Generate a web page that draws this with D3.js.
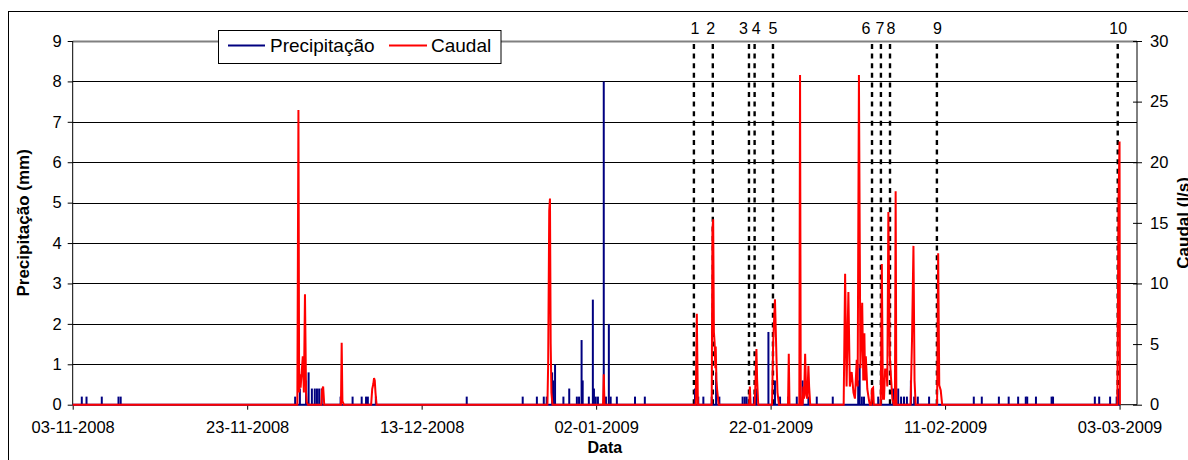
<!DOCTYPE html>
<html>
<head>
<meta charset="utf-8">
<script src="https://cdn.jsdelivr.net/npm/d3@7"></script>
<style>
  body { margin: 0; background: #fff; }
  svg { display: block; font-family: "Liberation Sans", Arial, sans-serif; }
</style>
</head>
<body>
<div id="chart"></div>
<script>
// axis ticks
const xTickLabels = ["03-11-2008", "23-11-2008", "13-12-2008", "02-01-2009", "22-01-2009", "11-02-2009", "03-03-2009"];
const leftTicks = [0, 1, 2, 3, 4, 5, 6, 7, 8, 9];
const rightTicks = [0, 5, 10, 15, 20, 25, 30];

// Precipitação (mm), hourly readings > 0
const precipitacao = [
  ["2008-11-04 01:00", 0.2], ["2008-11-04 14:00", 0.2], ["2008-11-06 08:00", 0.2], ["2008-11-08 06:00", 0.2],
  ["2008-11-08 12:00", 0.2], ["2008-11-28 12:00", 0.2], ["2008-11-29 01:00", 0.4], ["2008-11-29 18:00", 0.6],
  ["2008-11-30 01:00", 0.8], ["2008-11-30 10:00", 0.4], ["2008-11-30 18:00", 0.4], ["2008-12-01 00:00", 0.4],
  ["2008-12-01 06:00", 0.4], ["2008-12-01 13:00", 0.4], ["2008-12-03 17:00", 0.2], ["2008-12-05 02:00", 0.2],
  ["2008-12-06 03:00", 0.2], ["2008-12-06 15:00", 0.2], ["2008-12-06 20:00", 0.2], ["2008-12-07 18:00", 0.2],
  ["2008-12-18 04:00", 0.2], ["2008-12-24 14:00", 0.2], ["2008-12-26 05:00", 0.2], ["2008-12-27 00:00", 0.2],
  ["2008-12-27 08:00", 0.2], ["2008-12-27 23:00", 0.8], ["2008-12-28 02:00", 0.6], ["2008-12-28 07:00", 1.0],
  ["2008-12-29 06:00", 0.2], ["2008-12-29 22:00", 0.4], ["2008-12-30 19:00", 0.2], ["2008-12-31 01:00", 0.2],
  ["2008-12-31 08:00", 1.6], ["2008-12-31 11:00", 0.6], ["2009-01-01 04:00", 0.2], ["2009-01-01 15:00", 2.6],
  ["2009-01-01 18:00", 0.4], ["2009-01-01 23:00", 0.2], ["2009-01-02 05:00", 0.2], ["2009-01-02 21:00", 8.0],
  ["2009-01-03 03:00", 0.2], ["2009-01-03 11:00", 2.0], ["2009-01-03 16:00", 0.2], ["2009-01-04 09:00", 0.2],
  ["2009-01-06 11:00", 0.2], ["2009-01-07 14:00", 0.2], ["2009-01-13 08:00", 0.4], ["2009-01-13 17:00", 0.2],
  ["2009-01-14 07:00", 0.2], ["2009-01-15 06:00", 0.2], ["2009-01-15 18:00", 0.8], ["2009-01-16 03:00", 0.2],
  ["2009-01-18 19:00", 0.2], ["2009-01-19 01:00", 0.2], ["2009-01-19 06:00", 0.2], ["2009-01-20 02:00", 0.2],
  ["2009-01-20 08:00", 0.4], ["2009-01-21 18:00", 1.8], ["2009-01-22 12:00", 0.6], ["2009-01-23 02:00", 0.2],
  ["2009-01-24 01:00", 0.2], ["2009-01-25 00:00", 0.2], ["2009-01-25 09:00", 0.2], ["2009-01-25 16:00", 0.6],
  ["2009-01-26 08:00", 0.2], ["2009-01-27 07:00", 0.2], ["2009-01-29 03:00", 0.2], ["2009-02-01 01:00", 0.6],
  ["2009-02-01 05:00", 1.0], ["2009-02-01 11:00", 0.2], ["2009-02-01 17:00", 0.2], ["2009-02-03 08:00", 0.2],
  ["2009-02-05 01:00", 0.4], ["2009-02-05 15:00", 0.4], ["2009-02-05 23:00", 0.2], ["2009-02-06 07:00", 0.2],
  ["2009-02-06 15:00", 0.2], ["2009-02-07 02:00", 0.6], ["2009-02-07 11:00", 0.2], ["2009-02-07 21:00", 0.2],
  ["2009-02-09 04:00", 0.2], ["2009-02-14 07:00", 0.2], ["2009-02-15 05:00", 0.2], ["2009-02-17 04:00", 0.2],
  ["2009-02-18 07:00", 0.2], ["2009-02-19 09:00", 0.2], ["2009-02-20 06:00", 0.2], ["2009-02-20 10:00", 0.2],
  ["2009-02-21 10:00", 0.2], ["2009-02-23 05:00", 0.2], ["2009-02-23 09:00", 0.2], ["2009-02-28 04:00", 0.2],
  ["2009-02-28 16:00", 0.2], ["2009-03-01 22:00", 0.2], ["2009-03-02 16:00", 0.2], ["2009-03-02 21:00", 0.4]
];
const precipRange = ["2008-11-03 00:00", "2009-03-03 01:00"];

// Caudal (l/s)
const caudal = [
  ["2008-11-03 00:00", 0],
  ["2008-11-28 18:00", 0], ["2008-11-28 21:00", 24.3], ["2008-11-28 23:00", 1.0], ["2008-11-29 01:00", 2.5],
  ["2008-11-29 03:00", 1.4], ["2008-11-29 09:00", 4.0], ["2008-11-29 12:00", 1.0], ["2008-11-29 15:00", 9.1],
  ["2008-11-29 18:00", 1.0], ["2008-11-29 20:00", 0.2], ["2008-11-29 23:00", 0],
  ["2008-12-01 12:00", 0], ["2008-12-01 14:00", 1.2], ["2008-12-01 17:00", 1.5], ["2008-12-01 20:00", 0],
  ["2008-12-03 18:00", 0], ["2008-12-03 20:00", 5.1], ["2008-12-03 22:00", 0.3], ["2008-12-04 02:00", 0],
  ["2008-12-07 05:00", 0], ["2008-12-07 08:00", 1.3], ["2008-12-07 11:00", 1.7], ["2008-12-07 13:00", 2.2],
  ["2008-12-07 15:00", 2.0], ["2008-12-07 17:00", 1.0], ["2008-12-07 20:00", 0],
  ["2008-12-27 10:00", 0], ["2008-12-27 12:00", 3.3], ["2008-12-27 15:00", 16.0], ["2008-12-27 17:00", 17.0],
  ["2008-12-27 19:00", 5.0], ["2008-12-27 21:00", 1.0], ["2008-12-28 00:00", 0],
  ["2009-01-02 19:00", 0], ["2009-01-02 21:00", 2.5], ["2009-01-02 23:00", 0],
  ["2009-01-13 10:00", 0], ["2009-01-13 13:00", 7.5], ["2009-01-13 16:00", 0],
  ["2009-01-15 06:00", 0], ["2009-01-15 08:00", 14.5], ["2009-01-15 10:00", 15.3], ["2009-01-15 12:00", 6.0],
  ["2009-01-15 14:00", 5.1], ["2009-01-15 16:00", 3.0], ["2009-01-15 17:00", 4.8], ["2009-01-15 19:00", 2.0],
  ["2009-01-15 21:00", 1.2], ["2009-01-16 01:00", 0],
  ["2009-01-19 13:00", 0], ["2009-01-19 15:00", 1.5], ["2009-01-19 17:00", 0],
  ["2009-01-20 04:00", 0], ["2009-01-20 06:00", 1.5], ["2009-01-20 09:00", 4.6], ["2009-01-20 11:00", 2.0],
  ["2009-01-20 14:00", 0],
  ["2009-01-22 04:00", 0], ["2009-01-22 07:00", 5.1], ["2009-01-22 12:00", 8.7], ["2009-01-22 17:00", 2.9],
  ["2009-01-22 19:00", 1.0], ["2009-01-22 23:00", 0],
  ["2009-01-24 00:00", 0], ["2009-01-24 02:00", 4.2], ["2009-01-24 04:00", 0],
  ["2009-01-25 07:00", 0], ["2009-01-25 09:00", 27.2], ["2009-01-25 11:00", 0],
  ["2009-01-25 16:00", 0], ["2009-01-25 18:00", 1.5], ["2009-01-25 20:00", 0.5], ["2009-01-25 23:00", 4.2],
  ["2009-01-26 02:00", 0.8], ["2009-01-26 05:00", 0.5], ["2009-01-26 08:00", 3.2], ["2009-01-26 10:00", 1.5],
  ["2009-01-26 13:00", 0],
  ["2009-01-30 09:00", 0], ["2009-01-30 13:00", 10.8], ["2009-01-30 17:00", 1.5], ["2009-01-30 22:00", 9.3],
  ["2009-01-31 02:00", 1.5], ["2009-01-31 07:00", 2.7], ["2009-01-31 12:00", 1.0], ["2009-01-31 16:00", 0.5],
  ["2009-01-31 21:00", 3.7], ["2009-01-31 23:30", 1.5], ["2009-02-01 03:00", 27.2], ["2009-02-01 07:00", 3.0],
  ["2009-02-01 12:00", 8.4], ["2009-02-01 15:00", 2.0], ["2009-02-01 18:00", 5.9], ["2009-02-01 20:00", 2.0],
  ["2009-02-01 22:00", 4.0], ["2009-02-02 02:00", 1.3], ["2009-02-02 07:00", 0.3], ["2009-02-02 09:00", 0],
  ["2009-02-02 13:00", 0], ["2009-02-02 15:00", 1.3], ["2009-02-02 18:00", 1.4], ["2009-02-02 20:00", 0],
  ["2009-02-03 15:00", 0], ["2009-02-03 18:00", 11.6], ["2009-02-03 21:00", 0.5], ["2009-02-04 00:00", 0.5],
  ["2009-02-04 03:00", 2.9], ["2009-02-04 07:00", 2.9], ["2009-02-04 09:00", 1.5], ["2009-02-04 12:00", 15.9],
  ["2009-02-04 14:00", 10.0], ["2009-02-04 16:00", 4.0], ["2009-02-04 19:00", 2.3], ["2009-02-04 23:00", 0.5],
  ["2009-02-05 03:00", 0],
  ["2009-02-05 06:00", 0], ["2009-02-05 08:00", 17.6], ["2009-02-05 10:00", 0],
  ["2009-02-07 01:00", 0], ["2009-02-07 05:00", 5.3], ["2009-02-07 09:00", 13.1], ["2009-02-07 12:00", 2.0],
  ["2009-02-07 15:00", 0],
  ["2009-02-10 02:00", 0], ["2009-02-10 05:00", 12.5], ["2009-02-10 08:00", 1.6], ["2009-02-10 12:00", 1.2],
  ["2009-02-10 16:00", 0],
  ["2009-03-02 18:00", 0], ["2009-03-02 21:00", 16.6], ["2009-03-03 00:00", 21.7], ["2009-03-03 01:00", 0]
];

// numbered events (dashed lines)
const eventLabels = ["1", "2", "3", "4", "5", "6", "7", "8", "9", "10"];
const eventDates = ["2009-01-13 05:00", "2009-01-15 09:00", "2009-01-19 12:30", "2009-01-20 04:00", "2009-01-22 06:30",
                    "2009-02-02 15:00", "2009-02-03 15:30", "2009-02-04 16:30", "2009-02-10 01:30", "2009-03-02 19:00"];

const width = 1188, height = 460;
const margin = {top: 41, bottom: 55.3, left: 72.7, right: 51};
const parse = d3.utcParse("%Y-%m-%d %H:%M");
const parseTick = d3.utcParse("%d-%m-%Y");

const svg = d3.select("#chart")
  .append("svg")
  .attr("width", width)
  .attr("height", height);

// chart border
svg.append("rect")
  .attr("x", 8.5).attr("y", 11.5)
  .attr("width", 1200).attr("height", 470)
  .attr("fill", "#fff").attr("stroke", "#000");

const x = d3.scaleUtc()
  .domain([parse("2008-11-03 00:00"), parse("2009-03-05 00:00")])
  .range([margin.left, width - margin.right]);

const yL = d3.scaleLinear().domain([0, 9]).range([height - margin.bottom, margin.top]);
const yR = d3.scaleLinear().domain([0, 30]).range([height - margin.bottom, margin.top]);

// gridlines
svg.append("g")
  .selectAll("line")
  .data(leftTicks.slice(1))
  .enter()
  .append("line")
  .attr("x1", margin.left).attr("x2", width - margin.right)
  .attr("y1", d => Math.round(yL(d)) + 0.5).attr("y2", d => Math.round(yL(d)) + 0.5)
  .attr("stroke", d => d === 9 ? "#808080" : "#000")
  .attr("stroke-width", d => d === 9 ? 2 : 1);

// left axis
svg.append("g")
  .attr("transform", `translate(${margin.left},0)`)
  .call(d3.axisLeft(yL).tickValues(leftTicks).tickSize(5).tickPadding(6))
  .call(g => g.selectAll("text").style("font-size", "16.5px").attr("fill", "#000"))
  .call(g => g.select(".domain").attr("d", `M0,${yL(9)}V${yL(0)}`));

// right axis
const rAxis = svg.append("g")
  .attr("transform", `translate(${width - margin.right},0)`)
  .call(d3.axisRight(yR).tickValues(rightTicks).tickSize(5).tickPadding(8))
  .call(g => g.selectAll("text").style("font-size", "16.5px").attr("fill", "#000"))
  .call(g => g.select(".domain").attr("d", `M0,${yR(30)}V${yR(0)}`));
rAxis.selectAll(".tick line").attr("x1", -4);

// bottom axis
svg.append("g")
  .attr("transform", `translate(0,${height - margin.bottom})`)
  .call(d3.axisBottom(x)
    .tickValues(xTickLabels.map(parseTick))
    .tickFormat(d3.utcFormat("%d-%m-%Y"))
    .tickSize(5).tickPadding(12))
  .call(g => g.selectAll("text").style("font-size", "16.5px").attr("fill", "#000"))
  .call(g => g.select(".domain").attr("d", `M${margin.left},0H${width - margin.right}`));

// event dashed lines
svg.append("g")
  .selectAll("line")
  .data(eventDates)
  .enter()
  .append("line")
  .attr("x1", d => x(parse(d))).attr("x2", d => x(parse(d)))
  .attr("y1", margin.top + 3).attr("y2", height - margin.bottom)
  .attr("stroke", "#000")
  .attr("stroke-width", 2.4)
  .attr("stroke-dasharray", "5,4.6");

const labelShift = [1, -2, -5.5, 1.5, 0, -6, -1, 1, 0.5, 0.5];
svg.append("g")
  .selectAll("text")
  .data(eventLabels)
  .enter()
  .append("text")
  .attr("x", (d, i) => x(parse(eventDates[i])) + labelShift[i])
  .attr("y", 33.5)
  .attr("text-anchor", "middle")
  .style("font-size", "16px")
  .text(d => d);

// precipitation: baseline + hourly spikes
svg.append("line")
  .attr("x1", x(parse(precipRange[0]))).attr("x2", x(parse(precipRange[1])))
  .attr("y1", yL(0)).attr("y2", yL(0))
  .attr("stroke", "#000080").attr("stroke-width", 2);

svg.append("g")
  .selectAll("path")
  .data(precipitacao)
  .enter()
  .append("path")
  .attr("d", d => `M${x(parse(d[0]))},${yL(0)}V${yL(d[1])}`)
  .attr("stroke", "#000080")
  .attr("stroke-width", 2)
  .attr("fill", "none");

// caudal line
const line = d3.line()
  .x(d => x(parse(d[0])))
  .y(d => yR(d[1]));

svg.append("path")
  .datum(caudal)
  .attr("d", line)
  .attr("fill", "none")
  .attr("stroke", "#ff0000")
  .attr("stroke-width", 2)
  .attr("stroke-linejoin", "miter");

// legend
const legend = svg.append("g");
legend.append("rect")
  .attr("x", 218.5).attr("y", 30.5)
  .attr("width", 282.5).attr("height", 33)
  .attr("fill", "#fff").attr("stroke", "#000");
legend.append("line")
  .attr("x1", 228).attr("x2", 265).attr("y1", 45.5).attr("y2", 45.5)
  .attr("stroke", "#000080").attr("stroke-width", 2);
legend.append("text")
  .attr("x", 270).attr("y", 52)
  .style("font-size", "19px")
  .text("Precipitação");
legend.append("line")
  .attr("x1", 389).attr("x2", 427).attr("y1", 45.5).attr("y2", 45.5)
  .attr("stroke", "#ff0000").attr("stroke-width", 2);
legend.append("text")
  .attr("x", 431).attr("y", 52)
  .style("font-size", "19px")
  .text("Caudal");

// axis titles
svg.append("text")
  .attr("x", (margin.left + width - margin.right) / 2)
  .attr("y", 453)
  .attr("text-anchor", "middle")
  .style("font-size", "16px")
  .style("font-weight", "bold")
  .text("Data");

svg.append("text")
  .attr("transform", `translate(29,${(yL(0) + yL(9)) / 2}) rotate(-90)`)
  .attr("text-anchor", "middle")
  .style("font-size", "17px")
  .style("font-weight", "bold")
  .text("Precipitação (mm)");

svg.append("text")
  .attr("transform", `translate(1189,${(yR(0) + yR(30)) / 2}) rotate(-90)`)
  .attr("text-anchor", "middle")
  .style("font-size", "17px")
  .style("font-weight", "bold")
  .text("Caudal (l/s)");
</script>
</body>
</html>
